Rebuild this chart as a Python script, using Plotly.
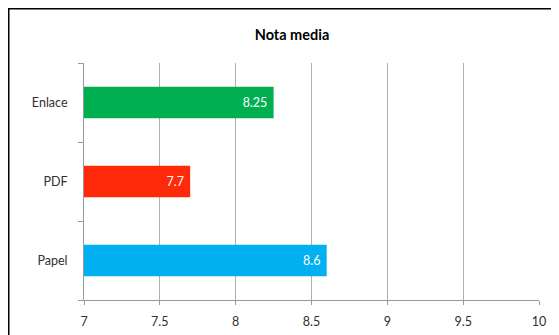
import plotly.graph_objects as go

categories = ["Papel", "PDF", "Enlace"]
values = [8.6, 7.7, 8.25]
colors = ["#00B0F0", "#FF2A0A", "#00B050"]
x_ticks = [7, 7.5, 8, 8.5, 9, 9.5, 10]
x_tick_labels = ["7", "7.5", "8", "8.5", "9", "9.5", "10"]
title_text = "Nota media"

FONT = "Lato, 'Open Sans', sans-serif"

# The page has an 8px body margin; the figure is sized to fill the rest of the window.
W, H = 551, 327
L, R, T, B = 76, 20, 55, 35
PW, PH = W - L - R, H - T - B

fig = go.Figure()
fig.add_trace(go.Bar(
    y=categories, x=values, orientation="h",
    marker=dict(color=colors, line=dict(width=0)),
    text=[str(v) + "\u00a0" for v in values], textposition="inside",
    insidetextanchor="end",
    textfont=dict(color="white", size=12.5, family=FONT),
))

fig.update_layout(
    width=W, height=H,
    margin=dict(l=L, r=R, t=T, b=B),
    paper_bgcolor="white", plot_bgcolor="white",
    showlegend=False,
    bargap=0.6,
    title=dict(text="<b>" + title_text + "</b>", x=284 / W, xref="container", xanchor="center",
               y=1 - 27 / H, yref="container", yanchor="middle",
               font=dict(size=14.5, family=FONT, color="#000000")),
    font=dict(family=FONT, size=12.5, color="#404040"),
)

fig.update_xaxes(
    range=[7, 10], tickvals=x_ticks, ticktext=x_tick_labels,
    showgrid=True, gridcolor="#B0B0B0", gridwidth=1,
    showline=True, linecolor="#9A9A9A", linewidth=1,
    ticks="outside", ticklen=4, tickcolor="#9A9A9A",
    ticklabelstandoff=6, automargin=False,
    zeroline=False, tickfont=dict(size=12.5, color="#303030"),
)
fig.update_yaxes(
    categoryorder="array", categoryarray=categories,
    showline=True, linecolor="#9A9A9A", linewidth=1,
    ticks="outside", ticklen=5, tickcolor="#9A9A9A", tickson="boundaries",
    showgrid=False, ticklabelstandoff=13, automargin=False,
    tickfont=dict(size=12.5, color="#303030"),
)

# outer chart border (right/bottom edges lie beyond the visible image)
fig.add_shape(type="rect", xref="paper", yref="paper",
              x0=(0.75 - L) / PW, x1=(W + 10 - L) / PW,
              y0=-(B + 10) / PH, y1=(PH + T - 0.75) / PH,
              line=dict(color="#000000", width=1.5), fillcolor="rgba(0,0,0,0)",
              layer="below")

fig.write_html("out.html")
